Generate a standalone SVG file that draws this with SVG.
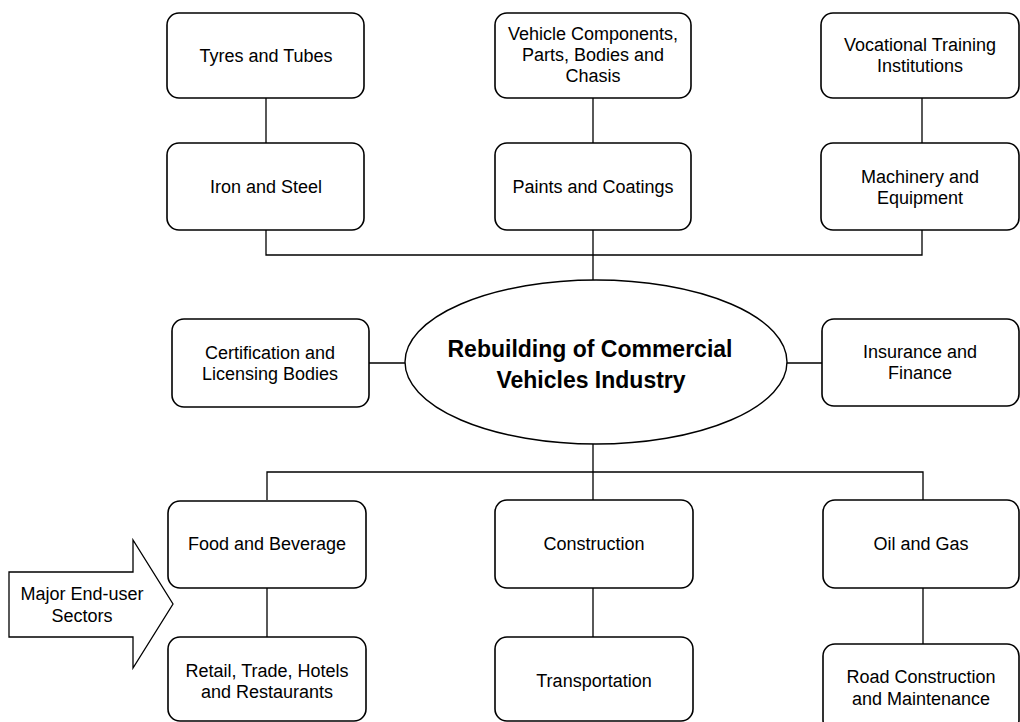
<svg xmlns="http://www.w3.org/2000/svg" width="1020" height="722" viewBox="0 0 1020 722">
<style>
.box{fill:#fff;stroke:#000;stroke-width:1.6}
.t{font-family:"Liberation Sans",Arial,sans-serif;font-size:18px;fill:#000;text-anchor:middle}
.tb{font-family:"Liberation Sans",Arial,sans-serif;font-size:23px;font-weight:bold;fill:#000;text-anchor:middle}
.ln{fill:none;stroke:#000;stroke-width:1.3}
</style>
<rect width="1020" height="722" fill="#fff"/>
<g id="connectors">
<path class="ln" d="M266 98V143M593 98V143M922 98V143"/>
<path class="ln" d="M266 230V255H922V230M593 230V280"/>
<path class="ln" d="M369 363H405M783 363H822"/>
<path class="ln" d="M593 444V500M267 500V472H923V500"/>
<path class="ln" d="M267 588V637M593 588V637M923 588V644"/>
</g>
<g id="n-tyres"><rect class="box" x="167" y="13" width="197" height="85" rx="12"/><text class="t" x="266" y="62">Tyres and Tubes</text></g>
<g id="n-vehicle"><rect class="box" x="495" y="13" width="196" height="85" rx="12"/><text class="t" x="593" y="40">Vehicle Components,</text><text class="t" x="593" y="61">Parts, Bodies and</text><text class="t" x="593" y="82">Chasis</text></g>
<g id="n-vocational"><rect class="box" x="821" y="13" width="198" height="85" rx="12"/><text class="t" x="920" y="51">Vocational Training</text><text class="t" x="920" y="72">Institutions</text></g>
<g id="n-iron"><rect class="box" x="167" y="143" width="197" height="87" rx="12"/><text class="t" x="266" y="193">Iron and Steel</text></g>
<g id="n-paints"><rect class="box" x="495" y="143" width="196" height="87" rx="12"/><text class="t" x="593" y="193">Paints and Coatings</text></g>
<g id="n-machinery"><rect class="box" x="821" y="143" width="198" height="87" rx="12"/><text class="t" x="920" y="183">Machinery and</text><text class="t" x="920" y="204">Equipment</text></g>
<g id="n-center"><ellipse cx="596" cy="362" rx="191" ry="82" fill="#fff" stroke="#000" stroke-width="1.4"/><text class="tb" x="590" y="357">Rebuilding of Commercial</text><text class="tb" x="591" y="388">Vehicles Industry</text></g>
<g id="n-cert"><rect class="box" x="172" y="319" width="197" height="88" rx="12"/><text class="t" x="270" y="359">Certification and</text><text class="t" x="270" y="380">Licensing Bodies</text></g>
<g id="n-insurance"><rect class="box" x="822" y="319" width="197" height="87" rx="12"/><text class="t" x="920" y="358">Insurance and</text><text class="t" x="920" y="379">Finance</text></g>
<g id="n-food"><rect class="box" x="168" y="501" width="198" height="87" rx="12"/><text class="t" x="267" y="550">Food and Beverage</text></g>
<g id="n-construction"><rect class="box" x="495" y="500" width="198" height="88" rx="12"/><text class="t" x="594" y="550">Construction</text></g>
<g id="n-oil"><rect class="box" x="823" y="500" width="196" height="88" rx="12"/><text class="t" x="921" y="550">Oil and Gas</text></g>
<g id="n-retail"><rect class="box" x="168" y="637" width="198" height="84" rx="12"/><text class="t" x="267" y="677">Retail, Trade, Hotels</text><text class="t" x="267" y="698">and Restaurants</text></g>
<g id="n-transport"><rect class="box" x="495" y="637" width="198" height="84" rx="12"/><text class="t" x="594" y="687">Transportation</text></g>
<g id="n-road"><rect class="box" x="823" y="644" width="196" height="88" rx="12"/><text class="t" x="921" y="683">Road Construction</text><text class="t" x="921" y="705">and Maintenance</text></g>
<g id="n-arrow"><path d="M9 572H133V540L173 604L133 668V637H9Z" fill="#fff" stroke="#000" stroke-width="1.3"/><text class="t" x="82" y="600">Major End-user</text><text class="t" x="82" y="622">Sectors</text></g>
</svg>
